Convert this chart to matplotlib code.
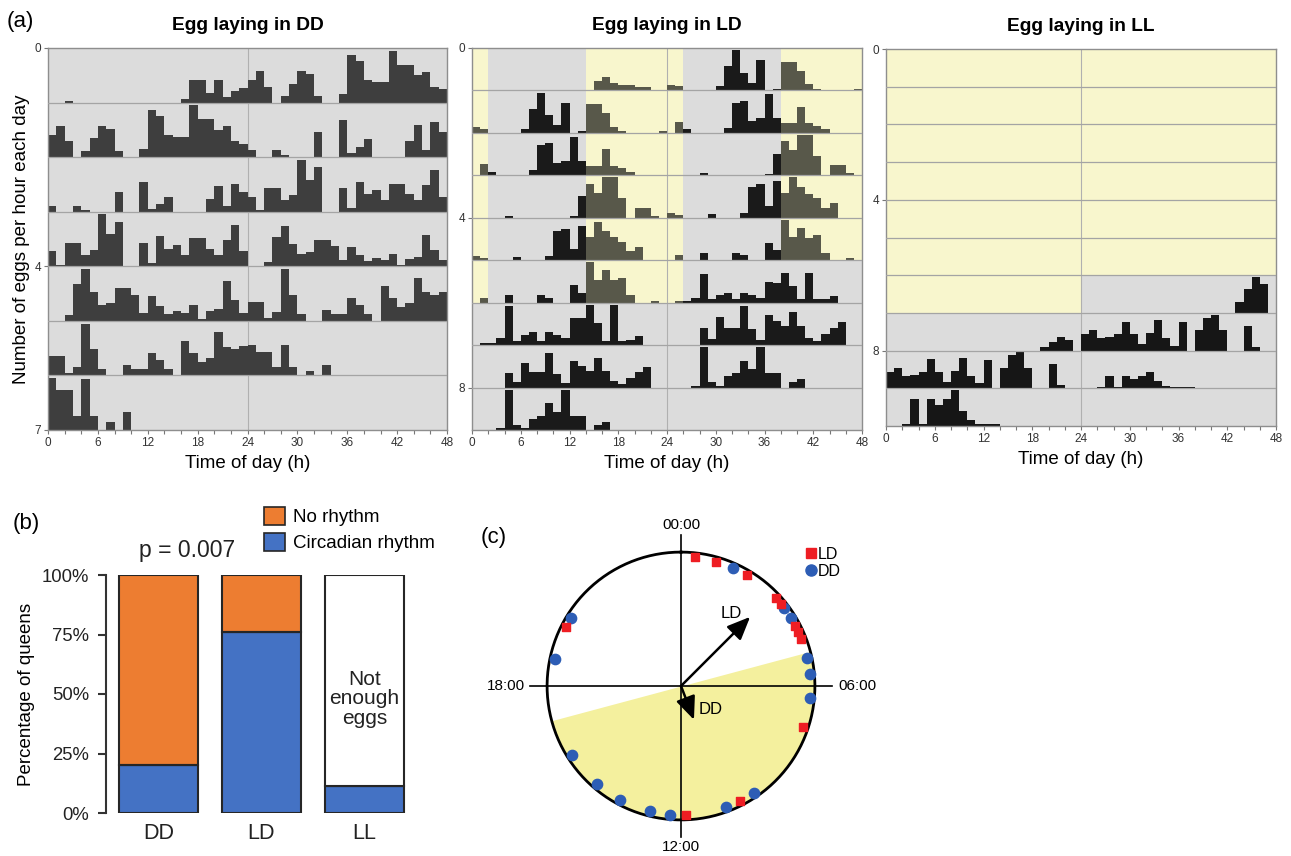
import matplotlib.pyplot as plt
from matplotlib.patches import Patch
from matplotlib.lines import Line2D
import numpy as np

plt.rcParams['font.family'] = ['Liberation Sans', 'DejaVu Sans']

W, H = 1291, 856

def box(left, top, right, bottom):
    # pixel box -> figure fraction
    return [left / W, 1 - bottom / H, (right - left) / W, (bottom - top) / H]

# ---- (a) eggs per hour, one list per day (rows are double plotted: day n | day n+1)
dd_counts = [
    [0, 0, 0.5, 0, 0, 0, 0, 0, 0, 0, 0, 0, 0, 0, 0, 0, 1, 7, 7, 3, 7, 1.7, 3.6, 4.5],
    [7, 10, 5, 0, 2, 6, 10, 9, 2, 0, 0, 2.6, 15, 13, 7, 6.4, 6.4, 16.4, 12, 12, 8.6, 9.7, 5, 4.3],
    [2.4, 0, 0, 2.4, 0.6, 0, 0, 0, 8, 0, 0, 11.9, 1.2, 3.2, 5.8, 0, 0, 0, 0, 5.2, 10.3, 2.2, 11, 8],
    [6, 0.6, 9.3, 9.3, 4.5, 6.7, 20.7, 12.7, 17.7, 0, 0, 9.3, 1.3, 11.9, 7.1, 8.6, 4.5, 11.2, 11.2, 7.1, 4.5, 10.6, 16.6, 6],
    [0, 0, 1.9, 11.6, 16.2, 9, 5.1, 5.6, 10.3, 10.3, 8.2, 2.6, 7.7, 4.6, 2, 3.2, 2.6, 5, 0.7, 3.1, 3.8, 12.3, 6.5, 2.6],
    [6, 6, 0.9, 2.7, 16.2, 8.2, 2, 0, 0, 3.4, 2, 2, 7, 4.8, 2, 0, 10.9, 7, 4.3, 5.5, 13.5, 8.9, 8.2, 9.1],
    [9.6, 7.4, 7.4, 2.6, 9.5, 2.6, 0, 1.4, 0, 3.4, 0, 0, 0, 0, 0, 0, 0, 0, 0, 0, 0, 0, 0, 0],
    [0] * 24,
]
ld_counts = [
    [0] * 15 + [2.2, 3.1, 1.7, 1.2, 1.2, 0.7, 0.7, 0, 0],
    [1.3, 0.9, 0, 0, 0, 0, 0.9, 5.5, 9.2, 4, 1.8, 6.9, 0, 0.4, 6.5, 6.5, 4.5, 1.4, 0.4, 0, 0, 0, 0, 0.4],
    [0, 2.5, 0.8, 0, 0, 0, 0, 1.2, 6.9, 7.3, 2.8, 3.3, 8.8, 3.3, 2.2, 2.2, 5.9, 2.2, 1.6, 0.8, 0, 0, 0, 0],
    [0, 0, 0, 0, 0.5, 0, 0, 0, 0, 0, 0, 0, 0.4, 4.9, 7.8, 5.7, 9.2, 9.2, 4.4, 0, 2.3, 2.3, 0.5, 0],
    [1.1, 0.6, 0, 0, 0, 0.8, 0, 0, 0, 1.1, 7, 7.6, 2.7, 8.3, 5.7, 9.2, 7.1, 5.5, 4.5, 2.2, 3.3, 0, 0, 0],
    [0, 1.2, 0, 0, 1.8, 0, 0, 0, 1.8, 1.2, 0, 0, 4.2, 2.4, 9.7, 5.5, 7.8, 5.4, 6, 1.8, 0, 0, 0.5, 0],
    [0, 0.4, 0.4, 1.2, 6.9, 0.8, 1.8, 2.4, 0.8, 2.4, 1.8, 1.2, 4.9, 4.8, 7.2, 4, 0.8, 7.2, 0.8, 1, 1.6, 0, 0, 0],
    [0, 0, 0, 0, 3, 1.1, 5, 3.1, 3.1, 6.9, 2.8, 1, 5.3, 4.3, 3.4, 5.9, 3.4, 1.3, 0.7, 1.9, 3.1, 4.2, 0, 0],
    [0, 0, 0, 0.4, 8.1, 1.1, 0.4, 2.3, 2.9, 5.4, 3.7, 8.1, 2.9, 2.9, 0, 1.1, 1.7, 0, 0, 0, 0, 0, 0, 0],
    [0] * 24,
]
ll_counts = [[0] * 24] * 7 + [
    [0] * 19 + [2.3, 5.1, 7.5, 6, 0],
    [9.4, 11.7, 7, 7.7, 9.4, 16.4, 9.4, 3.8, 10, 17, 7, 2.8, 16.2, 0, 11.7, 18.5, 20.2, 11.7, 0, 0, 13.8, 2.1, 0, 0],
    [0, 0, 0.6, 7, 0.6, 7, 5.5, 7, 9.4, 3.9, 1.5, 0.6, 0.6, 0.6, 0, 0, 0, 0, 0, 0, 0, 0, 0, 0],
    [0] * 24,
]
ld_light_days = 6   # days under the LD cycle before constant dark
ll_light_days = 7   # days under constant light before constant dark

# ---- (b) percentage of queens
groups = ['DD', 'LD', 'LL']
circadian = [20, 76, 11.5]
no_rhythm = [80, 24, 0]
not_enough = [0, 0, 88.5]

# ---- (c) phase of egg laying (clock hours)
ld_phase = [0.4, 1.06, 2.05, 3.15, 3.38, 4.15, 4.34, 4.57, 7.24, 10.2, 11.85, 19.8]
dd_phase = [1.57, 3.52, 3.87, 5.16, 5.63, 6.37, 9.71, 10.65, 12.33, 12.93, 13.87, 14.71, 15.85, 18.81, 20.13]
ld_mean = (3.0, 0.73)    # (clock hour, vector length)
dd_mean = (10.6, 0.27)
lights_on, lights_off = 5, 17

GRAY_BG = '#dcdcdc'
YELLOW = '#f8f6cd'


def light_mask(n_rows, mode, n_light):
    mask = np.zeros((n_rows, 48), dtype=bool)
    h = np.arange(48)
    for r in range(n_rows):
        if mode == 'LD':
            if r < n_light:
                mask[r] |= (h < 2) | ((h >= 14) & (h < 26))
            if r + 1 < n_light:
                mask[r] |= h >= 38
        elif mode == 'LL':
            if r < n_light:
                mask[r] |= h < 24
            if r + 1 < n_light:
                mask[r] |= h >= 24
    return mask


def actogram(ax, counts, mode, n_light, dark_col, light_col, title, yt):
    n_rows = len(counts) - 1
    mask = light_mask(n_rows, mode, n_light)
    hrs = np.arange(48)
    ax.set_facecolor(GRAY_BG)
    for r in range(n_rows):
        # yellow (lights on) runs
        runs, start = [], None
        for i in range(49):
            on = i < 48 and mask[r, i]
            if on and start is None:
                start = i
            if not on and start is not None:
                runs.append((start, i - start))
                start = None
        if runs:
            ax.broken_barh(runs, (r, 1), facecolors=YELLOW, zorder=0)
        vals = np.array(counts[r] + counts[r + 1], dtype=float)
        top = vals.max()
        if top > 0:
            hgt = vals / top * 0.95
            cols = np.where(mask[r], light_col, dark_col)
            ax.bar(hrs, -hgt, bottom=r + 1, width=1, align='edge',
                   color=cols, linewidth=0, zorder=2)
    for r in range(1, n_rows):
        ax.axhline(r, color='#a4a4a4', lw=0.9, zorder=3)
    ax.axvline(24, color='#b0b0b0', lw=0.8, zorder=1)
    ax.set_xlim(0, 48)
    ax.set_ylim(n_rows, 0)
    ax.set_xticks(range(0, 49, 6))
    ax.set_xticks(range(0, 49, 2), minor=True)
    ax.set_yticks(yt)
    ax.tick_params(which='both', length=3, width=0.8, color='#777', labelsize=8.5,
                   labelcolor='#333', pad=2)
    for s in ax.spines.values():
        s.set_color('#8e8e8e')
        s.set_linewidth(1.0)
    ax.set_xlabel('Time of day (h)', fontsize=13.5, labelpad=4)
    ax.set_title(title, fontsize=13.8, fontweight='bold', pad=13)


fig = plt.figure(figsize=(W / 100, H / 100), dpi=100)

ax_dd = fig.add_axes(box(48, 48, 447, 430))
ax_ld = fig.add_axes(box(472, 48, 862, 430))
ax_ll = fig.add_axes(box(886, 49, 1276, 426))

actogram(ax_dd, dd_counts, 'DD', 0, '#3e3e3e', '#3e3e3e', 'Egg laying in DD', [0, 4, 7])
actogram(ax_ld, ld_counts, 'LD', ld_light_days, '#1a1a1a', '#58584a', 'Egg laying in LD', [0, 4, 8])
actogram(ax_ll, ll_counts, 'LL', ll_light_days, '#161616', '#58584a', 'Egg laying in LL', [0, 4, 8])
ax_dd.set_ylabel('Number of eggs per hour each day', fontsize=13.5)
ax_dd.yaxis.set_label_coords(-0.045, 0.5)

fig.text(7 / W, 1 - 21 / H, '(a)', fontsize=16, va='center')

# ---- (b)
ax_b = fig.add_axes(box(106, 575, 420, 813))
x = np.arange(len(groups))
bw = 0.77
edge = dict(edgecolor='#262626', linewidth=1.5)
ax_b.bar(x, circadian, bw, color='#4472c4', **edge)
ax_b.bar(x, no_rhythm, bw, bottom=circadian, color='#ed7d31', **edge)
ax_b.bar(x, not_enough, bw, bottom=circadian, color='white', **edge)
ax_b.set_xlim(-0.51, 2.54)
ax_b.set_ylim(0, 100)
ax_b.set_yticks([0, 25, 50, 75, 100])
ax_b.set_yticklabels(['0%', '25%', '50%', '75%', '100%'])
ax_b.set_xticks(x)
ax_b.set_xticklabels(groups)
for s in ['top', 'right', 'bottom']:
    ax_b.spines[s].set_visible(False)
ax_b.spines['left'].set_color('#333')
ax_b.spines['left'].set_linewidth(1.5)
ax_b.tick_params(axis='y', length=6, width=1.5, color='#333', labelsize=13.3, pad=6, labelcolor='#222')
ax_b.tick_params(axis='x', length=0, labelsize=15.5, pad=7, labelcolor='#222')
ax_b.set_ylabel('Percentage of queens', fontsize=13.5, labelpad=5)
ax_b.text(2, 48, 'Not\nenough\neggs', ha='center', va='center', fontsize=15, linespacing=1.05, color='#222')
ax_b.text(0.28, 110.5, 'p = 0.007', ha='center', va='center', fontsize=16.5, color='#222')
fig.legend(handles=[Patch(facecolor='#ed7d31', edgecolor='#262626', lw=1.2, label='No rhythm'),
                    Patch(facecolor='#4472c4', edgecolor='#262626', lw=1.2, label='Circadian rhythm')],
           loc='upper left', bbox_to_anchor=(264 / W, 1 - 507 / H), frameon=False,
           fontsize=13.5, handlelength=1.1, handleheight=1.1, handletextpad=0.45,
           labelspacing=0.35, borderpad=0, borderaxespad=0)
fig.text(13 / W, 1 - 523 / H, '(b)', fontsize=16, va='center')

# ---- (c)
ax_c = fig.add_axes(box(527, 532, 835, 840), projection='polar')
ax_c.set_theta_zero_location('N')
ax_c.set_theta_direction(-1)
ax_c.set_rlim(0, 1.15)
ax_c.axis('off')

def rad(h):
    return np.asarray(h, dtype=float) / 24 * 2 * np.pi

arc = np.linspace(rad(lights_on), rad(lights_off), 200)
ax_c.fill_between(arc, 0, 1, color='#f4f09e', lw=0, zorder=0)
full = np.linspace(0, 2 * np.pi, 400)
ax_c.plot(full, np.ones_like(full), color='black', lw=2, zorder=2)
for h in [0, 6, 12, 18]:
    ax_c.plot([rad(h), rad(h)], [0, 1.13], color='black', lw=1.2, zorder=1)
for h, r, lab in [(0, 1.2, '00:00'), (12, 1.2, '12:00'), (18, 1.31, '18:00'), (6, 1.32, '06:00')]:
    ax_c.text(rad(h), r, lab, ha='center', va='center', fontsize=11)
ax_c.scatter(rad(dd_phase), np.full(len(dd_phase), 0.965), marker='o', s=55,
             color='#2d5db5', zorder=4, clip_on=False)
ax_c.scatter(rad(ld_phase), np.full(len(ld_phase), 0.965), marker='s', s=34,
             color='#ee1d23', zorder=4, clip_on=False)
for (h, ln) in [ld_mean, dd_mean]:
    ax_c.annotate('', xy=(rad(h), ln), xytext=(0, 0),
                  arrowprops=dict(arrowstyle='-|>,head_length=0.7,head_width=0.3',
                                  color='black', lw=1.8, mutation_scale=20,
                                  shrinkA=0, shrinkB=0), zorder=5)
ax_c.text(rad(2.33), 0.66, 'LD', ha='center', va='center', fontsize=12)
ax_c.text(rad(8.59), 0.28, 'DD', ha='center', va='center', fontsize=12)
fig.legend(handles=[Line2D([], [], ls='', marker='s', markersize=7, color='#ee1d23', label='LD'),
                    Line2D([], [], ls='', marker='o', markersize=8, color='#2d5db5', label='DD')],
           loc='upper left', bbox_to_anchor=(806 / W, 1 - 547 / H), frameon=False,
           fontsize=11.5, handlelength=0.6, handletextpad=0.15, labelspacing=0.1,
           borderpad=0, borderaxespad=0)
fig.text(494 / W, 1 - 538 / H, '(c)', fontsize=16, ha='center', va='center')

fig.savefig('out.png', dpi=100)
